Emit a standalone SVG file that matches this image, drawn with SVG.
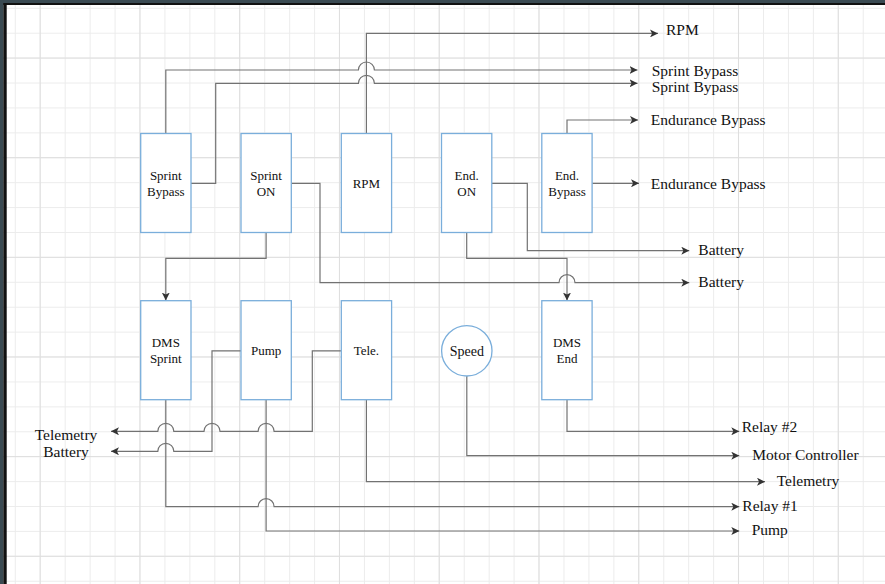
<svg xmlns="http://www.w3.org/2000/svg" width="885" height="584" viewBox="0 0 885 584">
<style>
.box{fill:#ffffff;stroke:#7aaedb;stroke-width:1.3}
.conn{fill:none;stroke:#727272;stroke-width:1.2}
.nt{font-family:"Liberation Serif","Times New Roman",serif;font-size:13px;fill:#111;text-anchor:middle}
.lb{font-family:"Liberation Serif","Times New Roman",serif;font-size:15.5px;fill:#111}
</style>
<defs>
<pattern id="minor" patternUnits="userSpaceOnUse" x="14.8" y="7.8" width="24.94" height="24.91">
<rect x="0" y="0" width="1" height="24.91" fill="#ececec"/>
<rect x="0" y="0" width="24.94" height="1" fill="#ececec"/>
</pattern>
<pattern id="major" patternUnits="userSpaceOnUse" x="-60.1" y="-42.1" width="99.76" height="99.64">
<rect x="0" y="0" width="1" height="99.64" fill="#dedede"/>
<rect x="0" y="0" width="99.76" height="1" fill="#dedede"/>
</pattern>
<marker id="arr" markerUnits="userSpaceOnUse" markerWidth="8" markerHeight="8" viewBox="0 0 7 7" refX="7" refY="3.5" orient="auto">
<path d="M0,0 L7,3.5 L0,7 L1.8,3.5 Z" fill="#333"/>
</marker>
</defs>
<rect width="885" height="584" fill="#ffffff"/>
<rect width="885" height="584" fill="url(#minor)"/>
<rect width="885" height="584" fill="url(#major)"/>
<rect x="0" y="0" width="885" height="3" fill="#3a4a52"/>
<rect x="0" y="0" width="3.3" height="584" fill="#3a4a52"/>
<rect x="3.3" y="3" width="881.7" height="2" fill="#111"/>
<rect x="3.3" y="3" width="3.4" height="581" fill="#111"/>

<g id="connectors">
<path class="conn" marker-end="url(#arr)" d="M366.4,133.5 V33.4 H658"/>
<path class="conn" marker-end="url(#arr)" d="M165.8,133.5 V70 H358.4 A8,8 0 0 1 374.4,70 H637.5"/>
<path class="conn" marker-end="url(#arr)" d="M191,183.3 H215.7 V83.3 H358.4 A8,8 0 0 1 374.4,83.3 H637.5"/>
<path class="conn" marker-end="url(#arr)" d="M567,133.5 V120 H638"/>
<path class="conn" marker-end="url(#arr)" d="M592.3,183.3 H639"/>
<path class="conn" marker-end="url(#arr)" d="M491.7,183.3 H527.3 V250.7 H689.3"/>
<path class="conn" marker-end="url(#arr)" d="M291.3,183.3 H320 V282.7 H559 A8,8 0 0 1 575,282.7 H689.3"/>
<path class="conn" marker-end="url(#arr)" d="M266.1,232.5 V258.3 H165.8 V300.5"/>
<path class="conn" marker-end="url(#arr)" d="M466.7,232.5 V258.3 H567 V300.5"/>
<path class="conn" marker-end="url(#arr)" d="M165.8,399.8 V506.7 H258.1 A8,8 0 0 1 274.1,506.7 H739.3"/>
<path class="conn" marker-end="url(#arr)" d="M266.1,399.8 V531 H739.3"/>
<path class="conn" marker-end="url(#arr)" d="M366.4,399.8 V481.7 H765"/>
<path class="conn" marker-end="url(#arr)" d="M466.8,376 V455.7 H739.3"/>
<path class="conn" marker-end="url(#arr)" d="M567,399.8 V431.3 H739.3"/>
<path class="conn" marker-end="url(#arr)" d="M241,350.8 H212 V451.3 H173.8 A8,8 0 0 0 157.8,451.3 H111"/>
<path class="conn" marker-end="url(#arr)" d="M341.3,350.8 H312.3 V431.3 H274.1 A8,8 0 0 0 258.1,431.3 H220 A8,8 0 0 0 204,431.3 H173.8 A8,8 0 0 0 157.8,431.3 H111"/>
</g>

<g id="sprint-bypass">
<rect class="box" x="140.7" y="133.5" width="50.3" height="99"/>
<text class="nt" x="165.8" y="179.5">Sprint</text>
<text class="nt" x="165.8" y="195.5">Bypass</text>
</g>
<g id="sprint-on">
<rect class="box" x="241" y="133.5" width="50.3" height="99"/>
<text class="nt" x="266.1" y="179.5">Sprint</text>
<text class="nt" x="266.1" y="195.5">ON</text>
</g>
<g id="rpm">
<rect class="box" x="341.3" y="133.5" width="50.3" height="99"/>
<text class="nt" x="366.4" y="187.5">RPM</text>
</g>
<g id="end-on">
<rect class="box" x="441.5" y="133.5" width="50.3" height="99"/>
<text class="nt" x="466.7" y="179.5">End.</text>
<text class="nt" x="466.7" y="195.5">ON</text>
</g>
<g id="end-bypass">
<rect class="box" x="541.8" y="133.5" width="50.3" height="99"/>
<text class="nt" x="567" y="179.5">End.</text>
<text class="nt" x="567" y="195.5">Bypass</text>
</g>
<g id="dms-sprint">
<rect class="box" x="140.7" y="300.7" width="50.3" height="99"/>
<text class="nt" x="165.8" y="346.7">DMS</text>
<text class="nt" x="165.8" y="362.7">Sprint</text>
</g>
<g id="pump">
<rect class="box" x="241" y="300.7" width="50.3" height="99"/>
<text class="nt" x="266.1" y="355">Pump</text>
</g>
<g id="tele">
<rect class="box" x="341.3" y="300.7" width="50.3" height="99"/>
<text class="nt" x="366.4" y="355">Tele.</text>
</g>
<g id="speed">
<circle class="box" cx="466.8" cy="350.8" r="25.2"/>
<text class="nt" x="466.8" y="355.5" style="font-size:14px">Speed</text>
</g>
<g id="dms-end">
<rect class="box" x="541.8" y="300.7" width="50.3" height="99"/>
<text class="nt" x="567" y="346.7">DMS</text>
<text class="nt" x="567" y="362.7">End</text>
</g>

<g id="labels">
<text class="lb" x="666" y="34.5">RPM</text>
<text class="lb" x="651.7" y="75.5">Sprint Bypass</text>
<text class="lb" x="651.7" y="91.7">Sprint Bypass</text>
<text class="lb" x="650.7" y="125">Endurance Bypass</text>
<text class="lb" x="650.7" y="188.5">Endurance Bypass</text>
<text class="lb" x="698.3" y="254.5">Battery</text>
<text class="lb" x="698.3" y="287.3">Battery</text>
<text class="lb" x="741.7" y="432">Relay #2</text>
<text class="lb" x="752.3" y="460">Motor Controller</text>
<text class="lb" x="776.7" y="485.5">Telemetry</text>
<text class="lb" x="742.3" y="510.7">Relay #1</text>
<text class="lb" x="751.7" y="535.3">Pump</text>
<text class="lb" x="66" y="440" text-anchor="middle">Telemetry</text>
<text class="lb" x="66" y="457" text-anchor="middle">Battery</text>
</g>
</svg>
